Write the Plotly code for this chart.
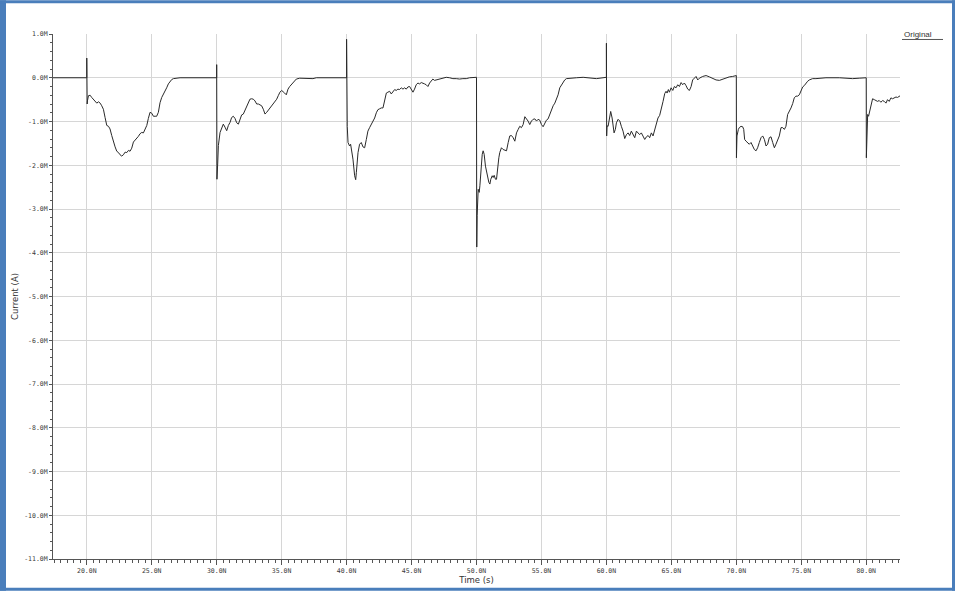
import plotly.graph_objects as go

# ---------------- data (time in ns, current in "M" units) ----------------
t_ns = [
    17.4, 20.0, 20.0, 20.02, 20.03,
    20.05, 20.13, 20.26, 20.38, 20.51, 20.64, 20.77, 20.90, 21.03, 21.15, 21.28, 21.41, 21.54, 21.67,
    21.79, 21.92, 22.05, 22.18, 22.31, 22.44, 22.56, 22.69, 22.82, 22.95, 23.08, 23.21, 23.33, 23.46,
    23.59, 23.72, 23.85, 23.97, 24.10, 24.23, 24.36, 24.49, 24.62, 24.74, 24.87, 25.00, 25.13, 25.26,
    25.38, 25.51, 25.64, 25.77, 25.90, 26.03, 26.15, 26.28, 26.41, 26.54, 26.67, 26.92, 27.18,
    30.0, 30.0, 30.02, 30.08, 30.13, 30.26, 30.38, 30.51, 30.64, 30.77, 30.90, 31.03, 31.15, 31.28,
    31.41, 31.54, 31.67, 31.79, 31.92, 32.05, 32.18, 32.31, 32.44, 32.56, 32.69, 32.82, 32.95, 33.08,
    33.21, 33.33, 33.46, 33.59, 33.72, 33.85, 33.97, 34.10, 34.23, 34.36, 34.49, 34.62, 34.74, 34.87,
    35.00, 35.11, 35.23, 35.36, 35.49, 35.62, 35.75, 35.88, 36.00, 36.13, 36.39, 36.90, 37.41, 37.67,
    40.0, 40.0, 40.02, 40.05, 40.11, 40.23, 40.31, 40.36, 40.49, 40.62, 40.70, 40.75, 40.88, 41.00,
    41.13, 41.26, 41.39, 41.52, 41.64, 41.77, 41.90, 42.03, 42.16, 42.29, 42.41, 42.54, 42.67, 42.80,
    42.93, 43.06, 43.18, 43.31, 43.44, 43.57, 43.70, 43.82, 43.95, 44.08, 44.21, 44.34, 44.47, 44.59,
    44.72, 44.85, 44.98, 45.11, 45.23, 45.36, 45.49, 45.62, 45.75, 45.88, 46.00, 46.13, 46.26, 46.39,
    46.52, 46.64, 46.77, 46.90, 47.16, 47.41, 47.67, 47.93, 48.18, 48.44, 48.70, 48.95, 49.21, 49.47,
    49.72, 49.95,
    50.0, 50.01, 50.02, 50.05, 50.13, 50.21, 50.26, 50.33, 50.44, 50.51, 50.59, 50.69, 50.82, 50.95,
    51.03, 51.10, 51.21, 51.28, 51.36, 51.46, 51.54, 51.62, 51.72, 51.79, 51.92, 52.05, 52.18, 52.31,
    52.44, 52.56, 52.69, 52.82, 52.95, 53.08, 53.21, 53.33, 53.46, 53.59, 53.72, 53.85, 53.97, 54.10,
    54.23, 54.36, 54.49, 54.62, 54.74, 54.87, 55.00, 55.13, 55.26, 55.38, 55.51, 55.64, 55.77, 55.90,
    56.03, 56.15, 56.28, 56.41, 56.54, 56.67, 56.79, 56.92, 57.18, 57.69, 58.21, 58.72, 59.23, 59.74,
    59.95,
    60.0, 60.0, 60.02, 60.05, 60.13, 60.26, 60.33, 60.44, 60.51, 60.59, 60.69, 60.77, 60.90, 61.03,
    61.15, 61.28, 61.41, 61.54, 61.67, 61.79, 61.92, 62.05, 62.18, 62.31, 62.44, 62.56, 62.69, 62.82,
    62.95, 63.08, 63.21, 63.33, 63.46, 63.59, 63.72, 63.85, 63.97, 64.10, 64.23, 64.36, 64.49, 64.59,
    64.67, 64.77, 64.85, 64.98, 65.11, 65.23, 65.36, 65.49, 65.62, 65.75, 65.87, 66.00, 66.13, 66.26,
    66.39, 66.52, 66.64, 66.77, 66.90, 67.03, 67.16, 67.41, 67.67, 67.93, 68.18, 68.44, 68.70, 68.95,
    69.21, 69.46, 69.72, 69.95,
    70.0, 70.01, 70.05, 70.16, 70.23, 70.36, 70.49, 70.57, 70.64, 70.75, 70.87, 71.00, 71.13, 71.26,
    71.39, 71.52, 71.64, 71.77, 71.90, 72.03, 72.16, 72.29, 72.41, 72.54, 72.67, 72.80, 72.93, 73.05,
    73.18, 73.31, 73.44, 73.57, 73.70, 73.82, 73.95, 74.08, 74.21, 74.34, 74.46, 74.59, 74.72, 74.85,
    74.98, 75.11, 75.23, 75.36, 75.49, 75.62, 75.75, 75.87, 76.13, 76.90, 77.93, 78.95, 79.46, 79.93,
    80.0, 80.01, 80.05, 80.11, 80.18, 80.29, 80.41, 80.49, 80.62, 80.75, 80.87, 81.00, 81.13, 81.26,
    81.39, 81.52, 81.64, 81.77, 81.90, 82.03, 82.16, 82.29, 82.41, 82.54, 82.62,
]

current_M = [
    0.0, 0.0, 0.45, 0.20, -0.60,
    -0.53, -0.41, -0.40, -0.45, -0.49, -0.53, -0.58, -0.55, -0.58, -0.64, -0.72, -0.91, -1.09, -1.11,
    -1.17, -1.32, -1.47, -1.58, -1.68, -1.71, -1.76, -1.79, -1.76, -1.70, -1.71, -1.66, -1.68, -1.61,
    -1.47, -1.43, -1.40, -1.34, -1.28, -1.25, -1.26, -1.17, -1.09, -0.93, -0.79, -0.81, -0.88, -0.88,
    -0.88, -0.79, -0.57, -0.45, -0.38, -0.30, -0.23, -0.14, -0.08, -0.04, -0.02, -0.01, 0.0,
    0.0, 0.30, -2.32, -1.95, -1.55, -1.25, -1.13, -1.06, -1.13, -1.21, -1.09, -1.02, -0.91, -0.88,
    -0.93, -1.03, -1.06, -0.93, -0.85, -0.83, -0.75, -0.64, -0.55, -0.49, -0.48, -0.49, -0.53, -0.60,
    -0.60, -0.63, -0.64, -0.72, -0.83, -0.79, -0.74, -0.68, -0.63, -0.58, -0.53, -0.49, -0.41, -0.33,
    -0.29, -0.31, -0.35, -0.39, -0.26, -0.20, -0.16, -0.12, -0.06, -0.03, -0.01, -0.02, -0.02, 0.0,
    0.0, 0.88, -1.11, -1.11, -1.48, -1.56, -1.52, -1.60, -1.86, -2.24, -2.33, -2.17, -1.71, -1.52,
    -1.48, -1.58, -1.60, -1.41, -1.22, -1.14, -1.07, -1.02, -0.92, -0.80, -0.73, -0.71, -0.69, -0.69,
    -0.50, -0.35, -0.33, -0.31, -0.37, -0.31, -0.27, -0.29, -0.26, -0.27, -0.23, -0.26, -0.23, -0.26,
    -0.21, -0.20, -0.26, -0.33, -0.26, -0.16, -0.12, -0.14, -0.11, -0.12, -0.14, -0.16, -0.20, -0.12,
    -0.08, -0.03, -0.06, -0.05, -0.03, -0.02, 0.01, 0.0, -0.02, -0.02, -0.03, -0.02, -0.02, 0.0,
    0.01, 0.01,
    0.01, -2.20, -3.87, -3.15, -2.55, -2.62, -2.47, -2.09, -1.75, -1.67, -1.75, -2.02, -2.24, -2.39,
    -2.43, -2.32, -2.24, -2.28, -2.23, -2.32, -2.32, -2.05, -1.83, -1.71, -1.60, -1.64, -1.65, -1.67,
    -1.48, -1.33, -1.32, -1.37, -1.45, -1.26, -1.18, -1.11, -1.14, -1.07, -0.89, -0.94, -0.99, -1.07,
    -0.99, -0.95, -0.94, -0.99, -0.95, -0.97, -1.07, -1.12, -1.03, -0.97, -0.94, -0.84, -0.73, -0.64,
    -0.58, -0.50, -0.39, -0.23, -0.16, -0.08, -0.05, -0.02, -0.01, 0.0, 0.01, 0.0, -0.02, 0.0,
    0.01,
    0.01, 0.79, -1.33, -1.10, -1.11, -0.88, -0.77, -0.92, -1.11, -1.26, -1.18, -1.03, -0.95, -0.99,
    -1.11, -1.22, -1.39, -1.30, -1.26, -1.32, -1.22, -1.30, -1.37, -1.22, -1.26, -1.30, -1.26, -1.32,
    -1.41, -1.35, -1.32, -1.37, -1.26, -1.33, -1.18, -1.03, -0.92, -0.86, -0.73, -0.54, -0.36, -0.31,
    -0.35, -0.27, -0.33, -0.23, -0.29, -0.20, -0.23, -0.16, -0.20, -0.11, -0.16, -0.12, -0.18, -0.26,
    -0.29, -0.20, -0.05, -0.01, 0.03, -0.05, -0.01, 0.03, 0.05, 0.02, -0.01, -0.05, -0.06, -0.03,
    -0.01, 0.02, 0.03, 0.05,
    0.05, -1.83, -1.33, -1.18, -1.14, -1.11, -1.12, -1.18, -1.41, -1.45, -1.48, -1.52, -1.48, -1.55,
    -1.64, -1.67, -1.60, -1.48, -1.37, -1.33, -1.41, -1.56, -1.52, -1.37, -1.35, -1.48, -1.60, -1.52,
    -1.41, -1.33, -1.14, -1.14, -1.18, -1.11, -0.84, -0.77, -0.69, -0.59, -0.46, -0.42, -0.42, -0.39,
    -0.31, -0.21, -0.18, -0.12, -0.08, -0.05, -0.03, -0.02, -0.02, 0.0, 0.0, -0.02, -0.01, 0.0,
    0.0, -1.83, -1.03, -0.84, -0.88, -0.73, -0.54, -0.48, -0.50, -0.52, -0.54, -0.52, -0.56, -0.52,
    -0.54, -0.58, -0.50, -0.54, -0.46, -0.48, -0.46, -0.44, -0.45, -0.42, -0.41,
]

x_tick_vals = [20, 25, 30, 35, 40, 45, 50, 55, 60, 65, 70, 75, 80]
x_tick_text = ["20.0N", "25.0N", "30.0N", "35.0N", "40.0N", "45.0N", "50.0N",
               "55.0N", "60.0N", "65.0N", "70.0N", "75.0N", "80.0N"]
y_tick_vals = [1, 0, -1, -2, -3, -4, -5, -6, -7, -8, -9, -10, -11]
y_tick_text = ["1.0M", "0.0M", "-1.0M", "-2.0M", "-3.0M", "-4.0M", "-5.0M",
               "-6.0M", "-7.0M", "-8.0M", "-9.0M", "-10.0M", "-11.0M"]
series_name = "Original"

# ---------------- layout geometry ----------------
W, H = 955, 594
L, R, T, B = 53, 55, 34, 32
PW, PH = W - L - R, H - T - B


def px(xp):
    return (xp - L) / PW


def py(yp):
    return (H - B - yp) / PH


tick_font = dict(family="DejaVu Sans Mono", size=6.5, color="#3a3a3a")
grid_c = "#d6d6d6"
axis_c = "#555555"

fig = go.Figure()
fig.add_trace(go.Scatter(x=t_ns, y=current_M, mode="lines", name=series_name,
                         line=dict(color="#2a2a2a", width=1), showlegend=False))

fig.update_layout(
    width=W, height=H,
    margin=dict(l=L, r=R, t=T, b=B, pad=0),
    paper_bgcolor="white", plot_bgcolor="white",
    showlegend=False,
    xaxis=dict(
        range=[17.4, 82.6], tickmode="array", tickvals=x_tick_vals, ticktext=x_tick_text,
        showgrid=True, gridcolor=grid_c, gridwidth=1, zeroline=False,
        showline=True, linecolor=axis_c, linewidth=1,
        ticks="outside", ticklen=5, tickcolor=axis_c, tickwidth=1,
        tickfont=tick_font,
        minor=dict(dtick=0.5, tick0=0, ticks="outside", ticklen=3, tickcolor=axis_c, showgrid=False),
        title=dict(text="Time (s)", font=dict(family="DejaVu Sans", size=8.5, color="#333333"),
                   standoff=1),
        fixedrange=True,
    ),
    yaxis=dict(
        range=[-11, 1], tickmode="array", tickvals=y_tick_vals, ticktext=y_tick_text,
        showgrid=True, gridcolor=grid_c, gridwidth=1, zeroline=False,
        showline=True, linecolor=axis_c, linewidth=1,
        ticks="outside", ticklen=3, tickcolor=axis_c, tickwidth=1,
        tickfont=tick_font,
        minor=dict(dtick=0.2, tick0=0, ticks="outside", ticklen=2, tickcolor=axis_c, showgrid=False),
        title=dict(text="Current (A)", font=dict(family="DejaVu Sans", size=8.5, color="#333333"),
                   standoff=4),
        fixedrange=True,
    ),
    annotations=[
        dict(text=series_name, x=px(902), y=py(34), xref="paper", yref="paper",
             xanchor="left", yanchor="middle", showarrow=False,
             font=dict(family="Liberation Sans", size=8, color="#333333")),
    ],
    shapes=[
        # legend sample line (underline)
        dict(type="line", xref="paper", yref="paper", x0=px(902), x1=px(943), y0=py(39.5), y1=py(39.5),
             line=dict(color="#555555", width=1)),
        # blue frame
        dict(type="rect", xref="paper", yref="paper", x0=px(0), x1=px(6), y0=py(0), y1=py(594),
             fillcolor="#4a7ebb", line=dict(width=0)),
        dict(type="rect", xref="paper", yref="paper", x0=px(0), x1=px(955), y0=py(0), y1=py(3),
             fillcolor="#4a7ebb", line=dict(width=0)),
        dict(type="rect", xref="paper", yref="paper", x0=px(0), x1=px(955), y0=py(591), y1=py(594),
             fillcolor="#4a7ebb", line=dict(width=0)),
        dict(type="rect", xref="paper", yref="paper", x0=px(952), x1=px(955), y0=py(0), y1=py(594),
             fillcolor="#4a7ebb", line=dict(width=0)),
    ],
)

fig.write_html(
    "out.html",
    config={"displayModeBar": False, "staticPlot": True},
    post_script="document.body.style.margin='0';document.body.style.overflow='hidden';",
)
